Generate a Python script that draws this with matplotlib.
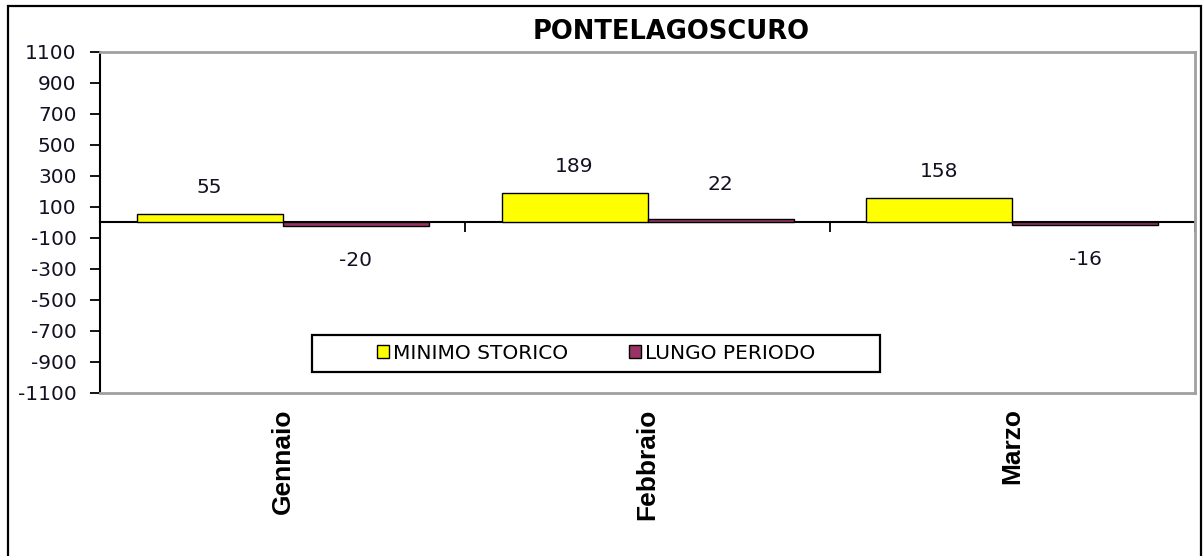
import numpy as np
import matplotlib.pyplot as plt
from matplotlib.patches import Rectangle

mesi = ['Gennaio', 'Febbraio', 'Marzo']
minimo_storico = [55, 189, 158]
lungo_periodo = [-20, 22, -16]
y_ticks = list(range(-1100, 1101, 200))

GIALLO = '#ffff00'
PRUGNA = '#993366'

fig = plt.figure(figsize=(12.04, 5.56), dpi=100)
ax = fig.add_axes([0.0831, 0.2932, 0.9094, 0.6133])

# cornice esterna del grafico
fig.patches.append(Rectangle((0.0066, -0.02), 0.991, 1.009, transform=fig.transFigure,
                             fill=False, edgecolor='black', linewidth=1.6))

x = np.arange(len(mesi))
w = 0.4
b1 = ax.bar(x - w / 2, minimo_storico, w, color=GIALLO, edgecolor='black',
            linewidth=1.0, label='MINIMO STORICO', zorder=3)
b2 = ax.bar(x + w / 2, lungo_periodo, w, color=PRUGNA, edgecolor='black',
            linewidth=1.0, label='LUNGO PERIODO', zorder=3)

# etichette dei valori
for bars, vals, off in ((b1, minimo_storico, 19), (b2, lungo_periodo, 25)):
    for r, v in zip(bars, vals):
        dy = off if v >= 0 else -off
        ax.annotate(str(v), (r.get_x() + r.get_width() / 2, v), xytext=(0, dy),
                    textcoords='offset points', ha='center', va='center',
                    fontsize=14.5, color='#111122')

ax.set_xlim(-0.5, len(mesi) - 0.5)
ax.set_ylim(-1100, 1100)
ax.set_yticks(y_ticks)
ax.set_yticklabels([str(t) for t in y_ticks], fontsize=14.5, color='#111122')
ax.tick_params(axis='y', direction='out', length=7, width=1.3, pad=10)

ax.set_xticks(x)
ax.set_xticklabels(mesi, rotation=90, fontsize=19, fontweight='bold',
                   family='Liberation Sans', va='top')
ax.tick_params(axis='x', length=0, pad=11)

for s in ('top', 'right', 'bottom'):
    ax.spines[s].set_color('#a0a0a0')
    ax.spines[s].set_linewidth(2)
ax.spines['left'].set_color('black')
ax.spines['left'].set_linewidth(1.5)

# asse delle categorie sulla linea dello zero, tacche verso il basso
sec = ax.secondary_xaxis(0.5)
sec.set_xticks(np.arange(-0.5, len(mesi), 1.0))
sec.set_xticklabels([])
sec.tick_params(direction='in', length=7, width=1.3)
for sp in sec.spines.values():
    sp.set_linewidth(1.5)
    sp.set_color('black')

fig.text(0.557, 0.942, 'PONTELAGOSCURO', ha='center', va='center',
         fontsize=18.5, fontweight='bold')

# riquadro della legenda
ax.add_patch(Rectangle((0.1936, 0.0616), 0.5187, 0.1085, transform=ax.transAxes,
                       facecolor='white', edgecolor='black', linewidth=1.6, zorder=4))
ax.legend(loc='center', bbox_to_anchor=(0.453, 0.116), ncol=2, frameon=False,
          fontsize=14.5, handlelength=0.6, handleheight=0.6, handletextpad=0.2,
          columnspacing=3.0).set_zorder(5)

fig.savefig('out.png', dpi=100)
